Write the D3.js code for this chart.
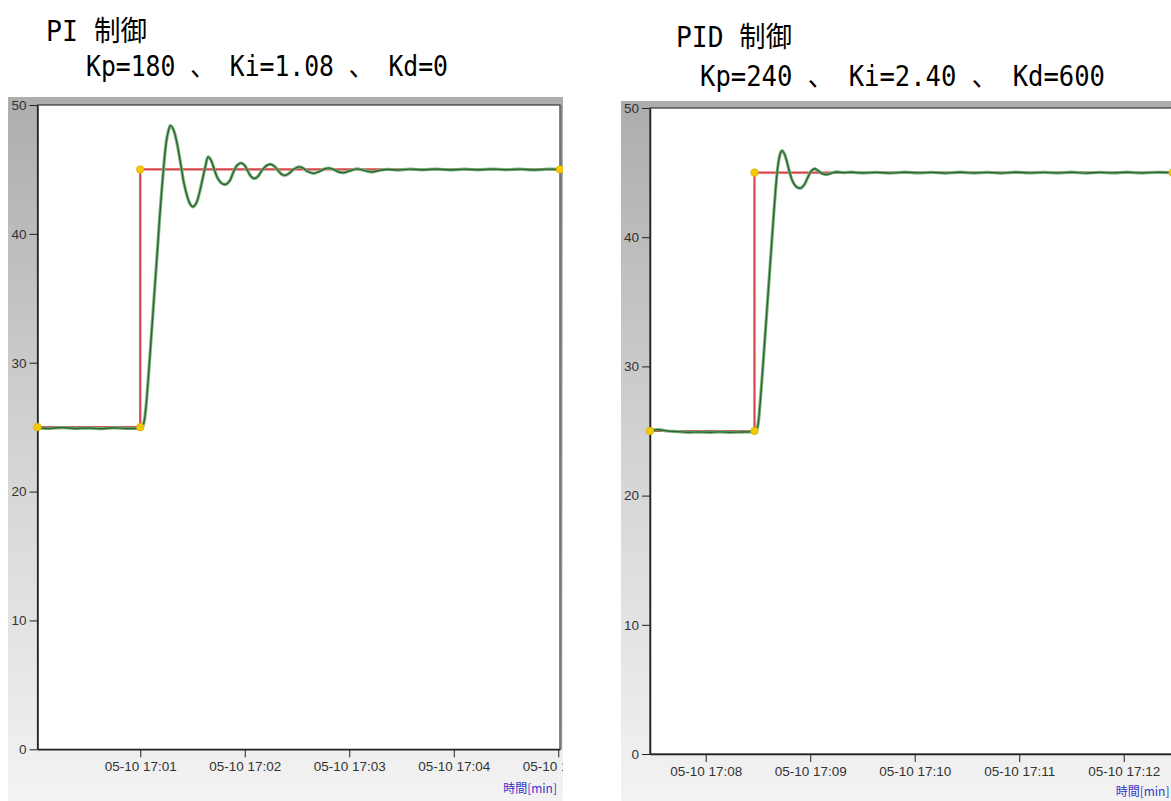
<!DOCTYPE html>
<html lang="ja">
<head>
<meta charset="utf-8">
<title>PI / PID 制御</title>
<style>
  body { margin: 0; background: #fff; }
  svg { display: block; }
  .tick text { font-family: "Liberation Sans", Arial, sans-serif; font-size: 13.5px; fill: #333; }
  .tick line { stroke: #222; }
  .domain { stroke: #222; stroke-width: 1.5; }
  .ttl { font-family: "DejaVu Sans Mono", "Noto Sans CJK JP", monospace; font-size: 28px; fill: #000; }
  .unit { font-family: "Noto Sans CJK JP", "Liberation Sans", sans-serif; font-size: 12px; fill: #3535c8; }
</style>
</head>
<body>
<script src="https://d3js.org/d3.v7.min.js"></script>
<script>

// ---- data (seconds from base time, value) ----
var yTicks = [0, 10, 20, 30, 40, 50]

var piBase = "05-10 17:00:00"
var piDomain = [1, 301]
var piTickLabels = ["05-10 17:01", "05-10 17:02", "05-10 17:03", "05-10 17:04", "05-10 17:05"]
var piSetpoint = [[1, 25], [60, 25], [60, 45], [301, 45]]
var piMeasured = [
  [1,24.95],[8,24.9],[15,24.97],[22,24.9],[30,24.93],[38,24.88],[45,24.95],[52,24.9],[60,24.92],
  [61,24.97],[62,25.3],[63,26.2],[64,27.7],[65,29.5],[66,31.4],[67,33.3],[68,35.2],[69,37.1],[70,39.0],
  [71,41.0],[72,42.8],[73,44.5],[74,46.0],[75,47.2],[76,47.9],[77.3,48.4],[79,48.1],[81,47.1],[83,45.6],
  [85,44.0],[87,42.9],[88.5,42.35],[90.1,42.1],[92,42.35],[94,43.2],[96,44.4],[97.5,45.3],[98.9,45.97],
  [100.5,45.75],[102.5,45.0],[104.5,44.3],[107,43.9],[109.3,43.85],[111.5,44.15],[113.5,44.8],[115.5,45.3],
  [117.9,45.5],[120,45.3],[122,44.8],[124,44.4],[125.7,44.3],[127.5,44.45],[130,44.95],[132.5,45.3],
  [134.8,45.4],[137,45.25],[139.5,44.85],[141.5,44.6],[143.4,44.55],[145.5,44.7],[148,45.0],[151,45.2],
  [153.5,45.1],[156,44.85],[159.6,44.7],[163,44.85],[166,45.05],[168.2,45.1],[171,45.0],[174,44.8],
  [176.8,44.75],[180,44.88],[184.3,45.04],[188,44.95],[192.9,44.8],[197,44.92],[202,45.0],[208,44.95],
  [215,45.02],[222,44.97],[230,45.03],[238,44.96],[246,45.02],[254,44.97],[262,45.03],[270,44.98],
  [278,45.02],[286,44.96],[294,45.02],[301,45.0]
]

var pidBase = "05-10 17:07:28"
var pidDomain = [0, 300]
var pidTickLabels = ["05-10 17:08", "05-10 17:09", "05-10 17:10", "05-10 17:11", "05-10 17:12"]
var pidSetpoint = [[0, 25], [60, 25], [60, 45], [300, 45]]
var pidMeasured = [
  [0,25.05],[5,25.1],[10,25.0],[16,24.95],[22,24.9],[28,24.92],[34,24.9],[40,24.93],[46,24.9],[52,24.92],
  [58,24.93],[60,24.95],[61,25.0],[62,25.5],[63,26.8],[64,28.5],[65,30.3],[66,32.2],[67,34.1],[68,36.0],
  [69,37.9],[70,39.8],[71,41.7],[72,43.5],[73,45.0],[74,46.0],[75,46.55],[75.8,46.7],[77,46.5],[78.5,45.9],
  [80,45.1],[82,44.3],[84,43.9],[86.5,43.8],[88.5,44.05],[90.5,44.6],[92.5,45.1],[94.4,45.3],[96.5,45.15],
  [98.5,44.95],[101.5,44.85],[104,44.95],[107,45.05],[111,45.0],[116,45.03],[122,44.97],[130,45.02],
  [138,44.96],[146,45.03],[154,44.98],[162,45.02],[170,44.96],[178,45.03],[186,44.97],[194,45.02],
  [202,44.96],[210,45.03],[218,44.98],[226,45.02],[234,44.97],[242,45.03],[250,44.96],[258,45.02],
  [266,44.98],[274,45.03],[282,44.97],[290,45.02],[300,45.0]
]

// ---- drawing ----
var svg = d3.select("body").append("svg").attr("width", 1171).attr("height", 801)
var defs = svg.append("defs")
var grad = defs.append("linearGradient").attr("id", "panelGrad")
  .attr("x1", 0).attr("y1", 0).attr("x2", 0).attr("y2", 1)
grad.append("stop").attr("offset", 0).attr("stop-color", "#adadad")
grad.append("stop").attr("offset", 0.5).attr("stop-color", "#d3d3d3")
grad.append("stop").attr("offset", 1).attr("stop-color", "#f3f3f3")

var parseBase = d3.timeParse("%m-%d %H:%M:%S")
var parseTick = d3.timeParse("%m-%d %H:%M")
var fmt = d3.timeFormat("%m-%d %H:%M")

function drawChart(c) {
  var base = parseBase(c.base)
  var toDate = function(s) { return new Date(base.getTime() + s * 1000) }

  var clipId = "clip" + c.id
  defs.append("clipPath").attr("id", clipId).append("rect")
    .attr("x", c.panel.x).attr("y", c.panel.y).attr("width", c.panel.w).attr("height", 801 - c.panel.y)

  var g = svg.append("g").attr("clip-path", "url(#" + clipId + ")")
  g.append("rect").attr("x", c.panel.x).attr("y", c.panel.y)
    .attr("width", c.panel.w).attr("height", 801 - c.panel.y).attr("fill", "url(#panelGrad)")

  var x = d3.scaleTime().domain(c.domain.map(toDate)).range([c.plot.left, c.plot.right])
  var y = d3.scaleLinear().domain([0, 50]).range([c.plot.bottom, c.plot.top])

  g.append("rect").attr("x", c.plot.left).attr("y", c.plot.top)
    .attr("width", c.plot.right - c.plot.left).attr("height", c.plot.bottom - c.plot.top)
    .attr("fill", "#fff").attr("stroke", "#333").attr("stroke-width", 1.2)
  g.append("line").attr("x1", c.plot.right + 1).attr("x2", c.plot.right + 1)
    .attr("y1", c.plot.top).attr("y2", c.plot.bottom).attr("stroke", "#777").attr("stroke-width", 1.5)

  g.append("g").attr("transform", "translate(" + c.plot.left + ",0)")
    .call(d3.axisLeft(y).tickValues(yTicks).tickSize(8).tickSizeOuter(0).tickPadding(3))
  g.append("g").attr("transform", "translate(0," + c.plot.bottom + ")")
    .call(d3.axisBottom(x).tickValues(c.ticks.map(parseTick)).tickFormat(fmt).tickSize(8).tickSizeOuter(0).tickPadding(4))

  var line = d3.line().x(function(d) { return x(toDate(d[0])) }).y(function(d) { return y(d[1]) })

  g.append("path").datum(c.setpoint).attr("d", line)
    .attr("fill", "none").attr("stroke", "#d6474b").attr("stroke-width", 2.2)

  var smooth = d3.line().curve(d3.curveCatmullRom.alpha(0.5))
    .x(function(d) { return x(toDate(d[0])) }).y(function(d) { return y(d[1]) })
  g.append("path").datum(c.measured).attr("d", smooth)
    .attr("fill", "none").attr("stroke", "#7db67f").attr("stroke-width", 3.2)
  g.append("path").datum(c.measured).attr("d", smooth)
    .attr("fill", "none").attr("stroke", "#2f6433").attr("stroke-width", 1.4)

  g.selectAll("circle.sp").data(c.setpoint).enter()
    .append("circle").attr("class", "sp")
    .attr("cx", function(d) { return x(toDate(d[0])) })
    .attr("cy", function(d) { return y(d[1]) })
    .attr("r", 3.8).attr("fill", "#f6c800").attr("stroke", "#d8a800").attr("stroke-width", 0.6)

  g.append("text").attr("class", "unit").attr("x", c.plot.right - 3).attr("y", c.unitY)
    .attr("text-anchor", "end").text("時間[min]")

  svg.append("text").attr("class", "ttl").attr("x", c.t1.x).attr("y", c.t1.y)
    .attr("textLength", c.t1.len).attr("lengthAdjust", "spacingAndGlyphs").text(c.title)
  svg.append("text").attr("class", "ttl").attr("x", c.t2.x).attr("y", c.t2.y)
    .attr("textLength", c.t2.len).attr("lengthAdjust", "spacingAndGlyphs").text(c.params)
}

drawChart({
  id: "pi", base: piBase, domain: piDomain, ticks: piTickLabels,
  setpoint: piSetpoint, measured: piMeasured,
  panel: { x: 8, y: 97, w: 555 },
  plot: { left: 37.5, top: 105, right: 560, bottom: 749.3 },
  unitY: 793,
  title: "PI 制御", params: "Kp=180 、 Ki=1.08 、 Kd=0",
  t1: { x: 46, y: 41, len: 101 }, t2: { x: 86, y: 76, len: 362 }
})

drawChart({
  id: "pid", base: pidBase, domain: pidDomain, ticks: pidTickLabels,
  setpoint: pidSetpoint, measured: pidMeasured,
  panel: { x: 621, y: 101, w: 560 },
  plot: { left: 650, top: 108, right: 1172.5, bottom: 754 },
  unitY: 796,
  title: "PID 制御", params: "Kp=240 、 Ki=2.40 、 Kd=600",
  t1: { x: 676, y: 47, len: 116 }, t2: { x: 700, y: 86, len: 405 }
})

</script>
</body>
</html>
